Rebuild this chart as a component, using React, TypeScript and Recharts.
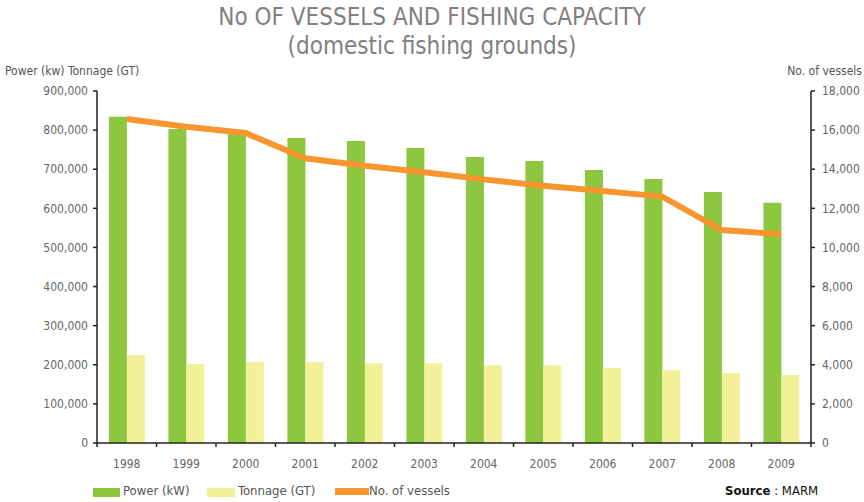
import React from 'react'
import {
  ComposedChart,
  Bar,
  Line,
  XAxis,
  YAxis,
} from 'recharts'

const years = ['1998', '1999', '2000', '2001', '2002', '2003', '2004', '2005', '2006', '2007', '2008', '2009']
const powerKw = [834000, 803000, 800000, 780000, 772000, 754000, 731000, 721000, 698000, 675000, 642000, 614000]
const tonnageGt = [225000, 202000, 207000, 207000, 204000, 204000, 199000, 199000, 192000, 187000, 179000, 174000]
const vessels = [16570, 16170, 15850, 14560, 14180, 13840, 13480, 13160, 12890, 12600, 10890, 10670]
const leftTicks = [0, 100000, 200000, 300000, 400000, 500000, 600000, 700000, 800000, 900000]
const rightTicks = [0, 2000, 4000, 6000, 8000, 10000, 12000, 14000, 16000, 18000]

const FONT = "'DejaVu Sans Condensed', 'Liberation Sans Narrow', Roboto, sans-serif"
const GREEN = '#8DC63F'
const YELLOW = '#F2F19A'
const ORANGE = '#F7962E'
const AXIS = '#222'
const TEXT = '#666'

const data = years.map((year, i) => ({
  year,
  power: powerKw[i],
  tonnage: tonnageGt[i],
  vessels: vessels[i],
}))

const fmt = (v: number) => v.toLocaleString('en-US')

// plot spans x 97..811, 12 categories
const BAND = (811 - 97) / years.length

function YearTick(props: any) {
  const { x, y, payload, index } = props
  return (
    <g>
      <line x1={x - BAND / 2} x2={x - BAND / 2} y1={y} y2={y + 4} stroke={AXIS} strokeWidth={1.5} />
      {index === years.length - 1 && (
        <line x1={x + BAND / 2} x2={x + BAND / 2} y1={y} y2={y + 4} stroke={AXIS} strokeWidth={1.5} />
      )}
      <text x={x} y={y + 25} textAnchor="middle" fill={TEXT} fontSize={12} fontFamily={FONT}>
        {payload.value}
      </text>
    </g>
  )
}

export default function App() {
  return (
    <div style={{ position: 'absolute', left: 0, top: 0, width: 864, height: 502, background: '#fff', fontFamily: FONT }}>
      <div style={{ position: 'absolute', left: 0, top: 3, width: 864, textAlign: 'center', color: '#808080', fontSize: 24, lineHeight: '29px' }}>
        No OF VESSELS AND FISHING CAPACITY
        <br />
        (domestic fishing grounds)
      </div>
      <div style={{ position: 'absolute', left: 5, top: 64, color: '#555', fontSize: 12 }}>Power (kw) Tonnage (GT)</div>
      <div style={{ position: 'absolute', right: 2, top: 64, color: '#555', fontSize: 12 }}>No. of vessels</div>

      <ComposedChart
        width={864}
        height={502}
        data={data}
        margin={{ top: 91, right: 0, bottom: 0, left: 0 }}
        barCategoryGap="20%"
        barGap={0}
      >
        <XAxis
          dataKey="year"
          tick={<YearTick />}
          tickLine={false}
          tickSize={0}
          tickMargin={0}
          axisLine={{ stroke: AXIS, strokeWidth: 1.5 }}
          interval={0}
          height={59}
        />
        <YAxis
          yAxisId="left"
          domain={[0, 900000]}
          ticks={leftTicks}
          tickFormatter={fmt}
          width={97}
          tickSize={4}
          tickMargin={5}
          axisLine={{ stroke: AXIS, strokeWidth: 1.5 }}
          tickLine={{ stroke: AXIS, strokeWidth: 1.5 }}
          tick={{ fill: TEXT, fontSize: 12, fontFamily: FONT }}
        />
        <YAxis
          yAxisId="right"
          orientation="right"
          domain={[0, 18000]}
          ticks={rightTicks}
          tickFormatter={fmt}
          width={53}
          tickSize={4}
          tickMargin={7}
          axisLine={{ stroke: AXIS, strokeWidth: 1.5 }}
          tickLine={{ stroke: AXIS, strokeWidth: 1.5 }}
          tick={{ fill: TEXT, fontSize: 12, fontFamily: FONT }}
        />
        <Bar yAxisId="left" dataKey="power" fill={GREEN} isAnimationActive={false} />
        <Bar yAxisId="left" dataKey="tonnage" fill={YELLOW} isAnimationActive={false} />
        <Line
          yAxisId="right"
          dataKey="vessels"
          type="linear"
          stroke={ORANGE}
          strokeWidth={6}
          dot={false}
          activeDot={false}
          isAnimationActive={false}
        />
      </ComposedChart>

      <div style={{ position: 'absolute', left: 0, top: 482, width: 864, height: 20, fontSize: 13, color: '#555' }}>
        <div style={{ position: 'absolute', left: 93, top: 6, width: 27, height: 9, background: GREEN }} />
        <div style={{ position: 'absolute', left: 123, top: 1 }}>Power (kW)</div>
        <div style={{ position: 'absolute', left: 207, top: 6, width: 28, height: 9, background: YELLOW }} />
        <div style={{ position: 'absolute', left: 238, top: 1 }}>Tonnage (GT)</div>
        <div style={{ position: 'absolute', left: 335, top: 6, width: 34, height: 7, background: ORANGE }} />
        <div style={{ position: 'absolute', left: 369, top: 1 }}>No. of vessels</div>
        <div style={{ position: 'absolute', left: 725, top: 1, color: '#111' }}>
          <b>Source</b> : MARM
        </div>
      </div>
    </div>
  )
}
